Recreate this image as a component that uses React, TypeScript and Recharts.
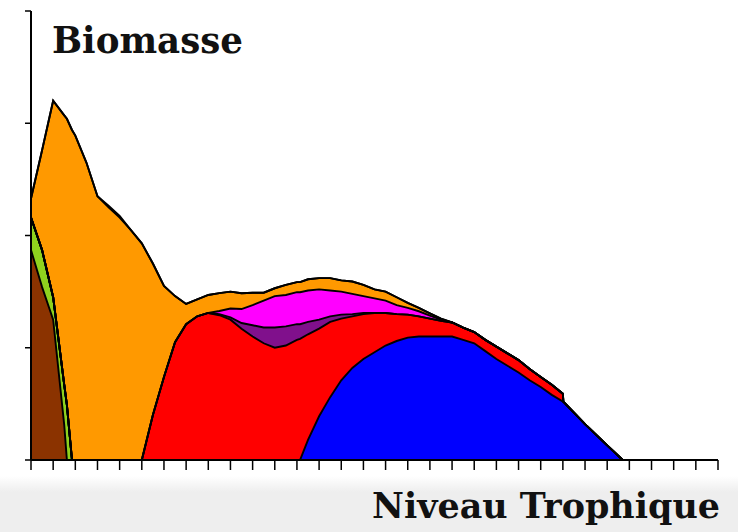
import { AreaChart, Area, XAxis, YAxis } from "recharts";

// trophic level positions where the curves were sampled
const levels = [
  0, 0.5, 1, 1.5, 1.62, 1.85, 2, 2.5, 3, 3.5, 4, 4.5, 5, 5.5, 6, 6.5, 7, 7.5,
  8, 8.5, 9, 9.5, 10, 10.5, 11, 11.5, 12, 12.14, 12.5, 13, 13.5, 14, 14.5, 15,
  15.5, 16, 16.5, 17, 17.5, 18, 18.5, 19, 19.5, 20, 20.5, 21, 21.5, 22, 22.5,
  23, 23.5, 24, 24.02, 25, 26, 26.7,
];

const xTicks = [
  0, 1, 2, 3, 4, 5, 6, 7, 8, 9, 10, 11, 12, 13, 14, 15, 16, 17, 18, 19, 20,
  21, 22, 23, 24, 25, 26, 27, 28, 29, 30, 31,
];
const yTicks = [0, 1, 2, 3, 4];

// [level, biomass] pairs, zero outside
const brown = [[0, 1.87], [0.5, 1.54], [1, 1.25], [1.5, 0.31], [1.62, 0]];
const green = [[0, 0.29], [0.5, 0.33], [1, 0.2], [1.5, 0.36], [1.62, 0.49], [1.85, 0]];
const blue = [
  [12.14, 0], [12.5, 0.18], [13, 0.39], [13.5, 0.56], [14, 0.71], [14.5, 0.82],
  [15, 0.9], [15.5, 0.96], [16, 1.02], [16.5, 1.06], [17, 1.09], [17.5, 1.1],
  [18, 1.1], [18.5, 1.1], [19, 1.1], [19.5, 1.07], [20, 1.04], [20.5, 0.97],
  [21, 0.9], [21.5, 0.84], [22, 0.78], [22.5, 0.71], [23, 0.65], [23.5, 0.58],
  [24, 0.52], [24.02, 0.52], [25, 0.32], [26, 0.13], [26.7, 0],
];
const red = [
  [5, 0], [5.5, 0.4], [6, 0.74], [6.5, 1.05], [7, 1.21], [7.5, 1.28], [8, 1.31],
  [8.5, 1.29], [9, 1.25], [9.5, 1.17], [10, 1.1], [10.5, 1.04], [11, 1.0],
  [11.5, 1.02], [12, 1.07], [12.14, 1.08], [12.5, 0.94], [13, 0.78],
  [13.5, 0.67], [14, 0.55], [14.5, 0.46], [15, 0.4], [15.5, 0.35], [16, 0.29],
  [16.5, 0.24], [17, 0.205], [17.5, 0.18], [18, 0.16], [18.5, 0.14],
  [19, 0.125], [19.5, 0.11], [20, 0.1], [20.5, 0.1], [21, 0.11], [21.5, 0.11],
  [22, 0.11], [22.5, 0.1], [23, 0.09], [23.5, 0.09], [24, 0.07], [24.02, 0],
];
const purple = [
  [8, 0], [8.5, 0.01], [9, 0.02], [9.5, 0.05], [10, 0.1], [10.5, 0.14],
  [11, 0.18], [11.5, 0.17], [12, 0.14], [12.14, 0.13], [12.5, 0.11], [13, 0.08],
  [13.5, 0.05], [14, 0.035], [14.5, 0.02], [15, 0.01], [15.5, 0],
];
const magenta = [
  [8, 0], [8.5, 0.027], [9, 0.08], [9.5, 0.125], [10, 0.18], [10.5, 0.24],
  [11, 0.28], [11.5, 0.28], [12, 0.285], [12.14, 0.285], [12.5, 0.28],
  [13, 0.27], [13.5, 0.23], [14, 0.205], [14.5, 0.18], [15, 0.15], [15.5, 0.13],
  [16, 0.11], [16.5, 0.08], [17, 0.06], [17.5, 0.045], [18, 0.027],
  [18.5, 0.01], [19, 0],
];
const orange = [
  [0, 0.17], [0.5, 0.89], [1, 1.75], [1.5, 2.4], [1.62, 2.55], [1.85, 2.94],
  [2, 2.89], [2.5, 2.65], [3, 2.35], [3.5, 2.25], [4, 2.16], [4.5, 2.05],
  [5, 1.93], [5.5, 1.35], [6, 0.81], [6.5, 0.41], [7, 0.18], [7.5, 0.15],
  [8, 0.16], [8.5, 0.16], [9, 0.15], [9.5, 0.14], [10, 0.11], [10.5, 0.07],
  [11, 0.07], [11.5, 0.09], [12, 0.09], [12.14, 0.09], [12.5, 0.1], [13, 0.1],
  [13.5, 0.11], [14, 0.1], [14.5, 0.11], [15, 0.1], [15.5, 0.08], [16, 0.08],
  [16.5, 0.07], [17, 0.045], [17.5, 0.03], [18, 0.02], [18.5, 0.01], [19, 0],
];
const violet = [[3, 0], [3.5, 0.015], [4, 0.015], [4.5, 0]];

const layers = [
  { key: "brown", color: "#8b3300", values: brown },
  { key: "green", color: "#8fd21e", values: green },
  { key: "blue", color: "#0000ff", values: blue },
  { key: "red", color: "#ff0000", values: red },
  { key: "purple", color: "#80108c", values: purple },
  { key: "magenta", color: "#ff00ff", values: magenta },
  { key: "orange", color: "#ff9900", values: orange },
  { key: "violet", color: "#9a5ad0", values: violet },
];

const rows = levels.map((x) => {
  const row: Record<string, number> = { x };
  layers.forEach((l) => {
    const hit = l.values.find((p) => p[0] === x);
    row[l.key] = hit ? hit[1] : 0;
  });
  return row;
});

const titleFont = "'DejaVu Serif', serif";

// no tick labels, only the tick marks
const NoLabel = () => <g />;

export default function App() {
  return (
    <div
      style={{
        position: "absolute",
        left: 0,
        top: 0,
        width: 738,
        height: 532,
        background:
          "linear-gradient(to bottom, #ffffff 0px, #ffffff 476px, #eeeeee 492px, #eeeeee 532px)",
      }}
    >
      <AreaChart
        width={738}
        height={532}
        data={rows}
        margin={{ top: 11, right: 20, bottom: 0, left: 0 }}
      >
        <XAxis
          type="number"
          dataKey="x"
          domain={[0, 31]}
          ticks={xTicks}
          interval={0}
          tick={NoLabel}
          tickSize={10}
          height={72}
          stroke="#000"
          strokeWidth={2}
          tickLine={{ stroke: "#000", strokeWidth: 1.5 }}
        />
        <YAxis
          type="number"
          domain={[0, 4]}
          ticks={yTicks}
          tick={NoLabel}
          tickSize={6}
          width={31}
          stroke="#000"
          strokeWidth={2}
          tickLine={{ stroke: "#000", strokeWidth: 1.5 }}
        />
        {layers.map((l) => (
          <Area
            key={l.key}
            type="linear"
            dataKey={l.key}
            stackId="fill"
            fill={l.color}
            fillOpacity={1}
            stroke="none"
            isAnimationActive={false}
          />
        ))}
        {layers.map((l) => (
          <Area
            key={l.key + "-edge"}
            type="linear"
            dataKey={l.key}
            stackId="edge"
            fill="none"
            stroke="#000"
            strokeWidth={1.9}
            isAnimationActive={false}
          />
        ))}
      </AreaChart>
      <svg
        width={738}
        height={532}
        style={{ position: "absolute", left: 0, top: 0, pointerEvents: "none" }}
      >
        <text
          x={52}
          y={53}
          fontFamily={titleFont}
          fontWeight="bold"
          fontSize={37}
          textLength={191}
          lengthAdjust="spacingAndGlyphs"
          fill="#111"
        >
          Biomasse
        </text>
        <text
          x={372}
          y={518}
          fontFamily={titleFont}
          fontWeight="bold"
          fontSize={36}
          textLength={348}
          lengthAdjust="spacingAndGlyphs"
          fill="#111"
        >
          Niveau Trophique
        </text>
      </svg>
    </div>
  );
}
